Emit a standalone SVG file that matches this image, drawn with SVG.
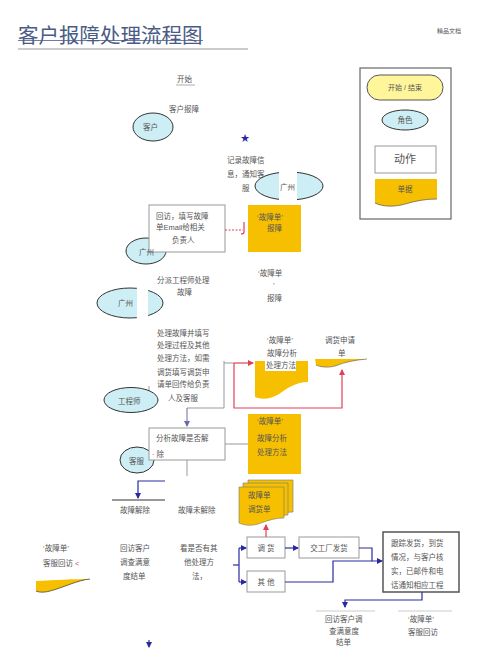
<svg xmlns="http://www.w3.org/2000/svg" width="480" height="648" viewBox="0 0 480 648">
<style>
text{font-family:"Liberation Sans","Noto Sans CJK SC",sans-serif;font-size:7.5px;fill:#555}
.role{fill:#cdeef4;stroke:#333;stroke-width:1}
.doc{fill:#f6c000}
.docs{fill:#f6c000;stroke:#777;stroke-width:0.6}
.box{fill:#fff;stroke:#999;stroke-width:1}
.blue{fill:none;stroke:#2a2aa0;stroke-width:1.2}
.red{fill:none;stroke:#e0405a;stroke-width:1.2}
.gray{fill:none;stroke:#999;stroke-width:1}
.mid{text-anchor:middle}
</style>
<defs>
<marker id="ab" markerWidth="6" markerHeight="6" refX="5" refY="3" orient="auto" markerUnits="userSpaceOnUse"><path d="M0,0 L6,3 L0,6 Z" fill="#2a2aa0"/></marker>
<marker id="ar" markerWidth="6" markerHeight="6" refX="5" refY="3" orient="auto" markerUnits="userSpaceOnUse"><path d="M0,0 L6,3 L0,6 Z" fill="#e0405a"/></marker>
<marker id="ap" markerWidth="6" markerHeight="6" refX="5" refY="3" orient="auto" markerUnits="userSpaceOnUse"><path d="M0,0 L6,3 L0,6 Z" fill="#6a6aaa"/></marker>
</defs>

<g id="title">
<text x="18" y="43" style="font-size:20.5px;fill:#4a5c86">客户报障处理流程图</text>
<line x1="18" y1="40.5" x2="203" y2="40.5" stroke="#4a5c86" stroke-width="0.8"/>
<line x1="18" y1="49" x2="248" y2="49" stroke="#bbb" stroke-width="1.5"/>
<text x="437" y="33" style="font-size:6px">精品文档</text>
</g>

<g id="legend">
<rect x="360" y="68" width="91" height="151" fill="#fff" stroke="#666" stroke-width="1.2"/>
<rect x="367" y="75" width="76" height="25" rx="12.5" fill="#fff59a" stroke="#555"/>
<text x="405" y="90" class="mid" style="font-size:7px">开始 / 结束</text>
<ellipse cx="405" cy="120" rx="23" ry="10" class="role"/>
<text x="405" y="123" class="mid">角色</text>
<rect x="375" y="146" width="61" height="27" class="box"/>
<text x="405" y="163" class="mid" style="font-size:11px">动作</text>
<path d="M375,179 H437 V199 C425,199 415,201 405,204 C395,207 383,207 375,203 Z" class="doc"/>
<path d="M437,199 C425,199 415,201 405,204 C395,207 383,207 375,203" fill="none" stroke="#555" stroke-width="0.7"/>
<text x="405" y="192" class="mid">单据</text>
</g>

<g id="start">
<text x="177" y="82">开始</text>
<line x1="176" y1="85" x2="195" y2="85" stroke="#999" stroke-width="0.8"/>
</g>
<g id="n-report"><text x="169" y="112">客户报障</text></g>
<g id="customer">
<ellipse cx="153" cy="127" rx="20" ry="14" class="role"/>
<text x="143" y="130">客户</text>
</g>
<g id="star"><text x="245" y="141" class="mid" style="font-size:9px;fill:#2a2aa0">★</text></g>
<g id="record">
<text x="227" y="163">记录故障信</text>
<text x="227" y="177">息，通知客</text>
<text x="242" y="191">服</text>
</g>
<g id="gz1">
<ellipse cx="289" cy="186" rx="34" ry="14" class="role"/>
<rect x="279" y="171" width="18" height="30" fill="#fff"/>
<text x="280" y="190">广州</text>
</g>

<g id="gz2">
<ellipse cx="146" cy="251" rx="20" ry="13" class="role"/>
</g>
<g id="callback">
<rect x="149" y="205" width="76" height="47" class="box"/>
<text x="156" y="219">回访，填写故障</text>
<text x="156" y="230">单Email给相关</text>
<text x="172" y="243">负责人</text>
<text x="139" y="255">广州</text>
</g>
<g id="doc-report">
<rect x="248" y="205" width="53" height="47" class="doc"/>
<text x="257" y="220">‘故障单’</text>
<text x="267" y="231">报障</text>
</g>

<g id="assign">
<text x="157" y="283">分派工程师处理</text>
<text x="177" y="295">故障</text>
</g>
<g id="doc-report2">
<text x="258" y="276">‘故障单</text>
<text x="273" y="288">’</text>
<text x="267" y="301">报障</text>
</g>
<g id="gz3">
<ellipse cx="130" cy="303" rx="33" ry="15" class="role"/>
<rect x="137" y="286" width="11" height="34" fill="#fff"/>
<text x="118" y="306">广州</text>
</g>

<g id="handle">
<path d="M224,361 V408 H187" class="gray"/>
<line x1="149" y1="386" x2="149" y2="392" stroke="#999"/>
<text x="157" y="336">处理故障并填写</text>
<text x="157" y="348">处理过程及其他</text>
<text x="157" y="361">处理方法，如需</text>
<text x="157" y="375">调货填写调货申</text>
<text x="157" y="387">请单回传给负责</text>
<text x="168" y="401">人及客服</text>
</g>
<g id="engineer">
<ellipse cx="131" cy="400" rx="27" ry="12.5" class="role"/>
<text x="118" y="404">工程师</text>
</g>
<g id="doc-analysis1">
<path d="M255,361 H308 V382 C296,382 288,388 279,394 C271,399 262,400 255,397 Z" class="doc"/>
<rect x="265" y="361" width="31" height="10" fill="#fff"/>
<text x="267" y="343">‘故障单’</text>
<text x="267" y="356">故障分析</text>
<text x="266" y="368">处理方法</text>
</g>
<g id="doc-transfer">
<path d="M315,359 H367 C355,360 345,362 335,366 C328,368 320,367 316,365 Z" class="doc"/>
<path d="M367,359 C355,360 345,362 335,366 C328,368 320,367 316,365" fill="none" stroke="#555" stroke-width="0.6"/>
<text x="325" y="343">调货申请</text>
<text x="338" y="356">单</text>
</g>

<g id="analyze">
<ellipse cx="137" cy="460" rx="17" ry="13" class="role"/>
<text x="129" y="464">客服</text>
<rect x="149" y="428" width="76" height="32" class="box"/>
<text x="156" y="441">分析故障是否解</text>
<text x="152" y="457">· 除</text>
</g>
<g id="doc-analysis2">
<rect x="248" y="414" width="53" height="60" class="doc"/>
<text x="257" y="424">‘故障单’</text>
<text x="257" y="441">故障分析</text>
<text x="257" y="455">处理方法</text>
</g>
<g id="resolved"><text x="120" y="513">故障解除</text></g>
<g id="unresolved"><text x="178" y="513">故障未解除</text></g>

<g id="doc-stack">
<path d="M248,480 H293 V512 C285,512 278,514 270,517 C262,520 255,520 248,517 Z" class="docs"/>
<path d="M243,483 H288 V515 C280,515 273,517 265,520 C257,523 250,523 243,520 Z" class="docs"/>
<path d="M239,487 H284 V518 C276,518 269,520 261,523 C253,526 246,526 239,523 Z" class="docs"/>
<text x="248" y="498">故障单</text>
<text x="248" y="512">调货单</text>
</g>

<g id="left-doc">
<text x="43" y="551">‘故障单’</text>
<text x="43" y="566">客服回访 <tspan style="fill:#e0405a">&lt;</tspan></text>
<path d="M36,581 C55,580 75,579 90,579 C78,580 62,588 50,591 C43,593 38,592 36,591 Z" class="doc"/>
<path d="M90,579 C78,580 62,588 50,591 C43,593 38,592 36,591" fill="none" stroke="#333" stroke-width="0.7"/>
</g>
<g id="survey">
<text x="120" y="551">回访客户</text>
<text x="120" y="565">调查满意</text>
<text x="123" y="579">度结单</text>
</g>
<g id="other-method">
<text x="180" y="551">看是否有其</text>
<text x="184" y="565">他处理方</text>
<text x="192" y="579">法，</text>
</g>

<g id="transfer">
<rect x="247" y="537" width="38" height="21" class="box"/>
<text x="266" y="551" class="mid">调  货</text>
</g>
<g id="other">
<rect x="247" y="571" width="38" height="21" class="box"/>
<text x="266" y="585" class="mid">其  他</text>
</g>
<g id="ship">
<rect x="299" y="537" width="60" height="21" class="box"/>
<text x="329" y="551" class="mid">交工厂发货</text>
</g>
<g id="track">
<rect x="383" y="532" width="76" height="60" fill="#fff" stroke="#555" stroke-width="1.5"/>
<text x="391" y="546">跟踪发货，到货</text>
<text x="391" y="560">情况，与客户核</text>
<text x="391" y="574">实，已邮件和电</text>
<text x="391" y="588">话通知相应工程</text>
</g>
<g id="final-survey">
<line x1="316" y1="611" x2="375" y2="611" stroke="#ccc"/>
<text x="325" y="622">回访客户调</text>
<text x="329" y="634">查满意度</text>
<text x="336" y="645">结单</text>
</g>
<g id="final-doc">
<line x1="398" y1="611" x2="452" y2="611" stroke="#ccc"/>
<text x="408" y="622">‘故障单’</text>
<text x="408" y="635">客服回访</text>
</g>

<g id="connectors">
<line x1="225" y1="230" x2="243" y2="230" stroke="#e0405a" stroke-width="1" stroke-dasharray="2,1.5"/>
<path d="M244,222 V232 Q244,234 241,234" fill="none" stroke="#e0405a" stroke-width="1.2"/>
<line x1="224" y1="363" x2="234" y2="363" class="gray"/>
<path d="M234,363 H253" class="red" marker-end="url(#ar)"/>
<path d="M234,363 V408 H342 V370" class="red" marker-end="url(#ar)"/>
<path d="M187,408 V426" fill="none" stroke="#6a6aaa" stroke-width="1" marker-end="url(#ap)"/>
<line x1="225" y1="444" x2="248" y2="444" class="gray"/>
<line x1="187" y1="460" x2="187" y2="476" class="gray"/>
<path d="M165,481 H138 V498" class="blue" marker-end="url(#ab)"/>
<line x1="112" y1="500" x2="165" y2="500" stroke="#333" stroke-width="1"/>
<path d="M266,537 V525" class="red" marker-end="url(#ar)"/>
<path d="M233,565 H239" class="blue"/>
<path d="M239,548 V582" class="blue"/>
<path d="M239,548 H246" class="blue" marker-end="url(#ab)"/>
<path d="M239,582 H246" class="blue" marker-end="url(#ab)"/>
<path d="M285,548 H298" class="blue" marker-end="url(#ab)"/>
<path d="M359,548 H372 V561 H382" class="blue" marker-end="url(#ab)"/>
<path d="M285,582 H333 V561 H372" class="blue"/>
<path d="M422,592 V600 H345 V607" class="blue" marker-end="url(#ab)"/>
<path d="M149,640 V647" class="blue" marker-end="url(#ab)"/>
</g>
</svg>
